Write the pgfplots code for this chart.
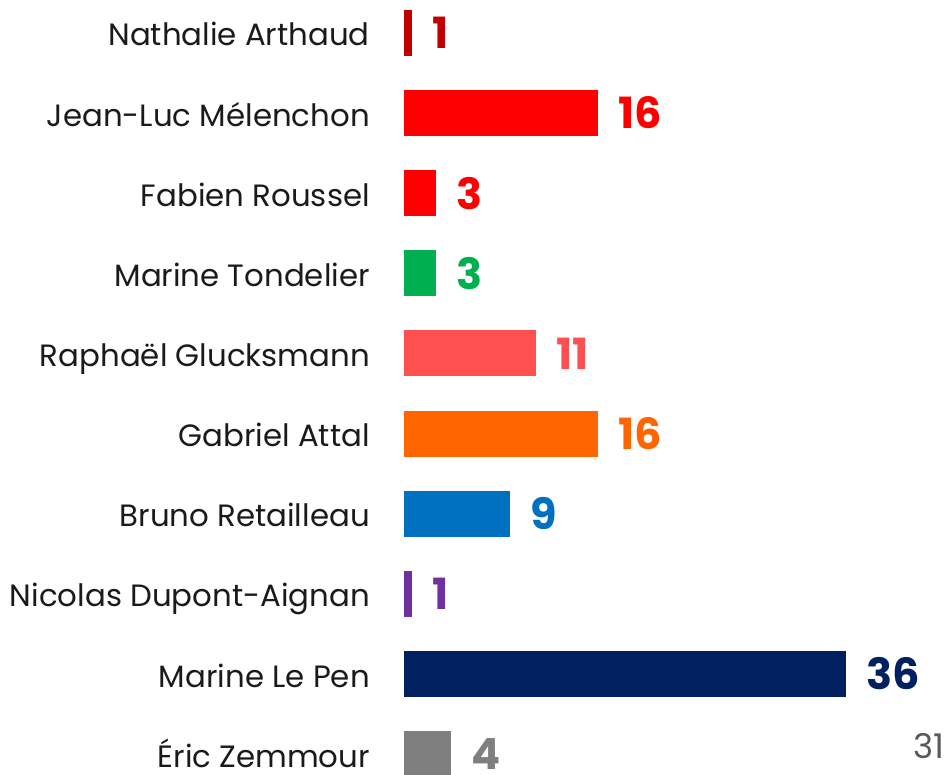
\documentclass[border=0pt]{standalone}
\usepackage{pgfplots}
\pgfplotsset{compat=1.18}
\usepackage{fontspec}
\setmainfont{Poppins}

\definecolor{cArthaud}{HTML}{C00000}
\definecolor{cMelenchon}{HTML}{FF0000}
\definecolor{cRoussel}{HTML}{FF0000}
\definecolor{cTondelier}{HTML}{00B050}
\definecolor{cGlucksmann}{HTML}{FF5050}
\definecolor{cAttal}{HTML}{FF6600}
\definecolor{cRetailleau}{HTML}{0070C0}
\definecolor{cDupont}{HTML}{7030A0}
\definecolor{cLePen}{HTML}{002060}
\definecolor{cZemmour}{HTML}{7F7F7F}
\definecolor{txt}{HTML}{1A1A1A}

\begin{document}
\begin{tikzpicture}
\begin{axis}[
    name=ax,
    xbar,
    x=6.1pt, y=40.05pt,
    xmin=0, xmax=44.3,
    ymin=-0.41, ymax=9.25,
    y dir=reverse,
    bar width=23pt,
    axis line style={draw=none},
    major tick length=0pt,
    xtick=\empty,
    ytick={0,...,9},
    yticklabels={Nathalie Arthaud, Jean-Luc Mélenchon, Fabien Roussel,
                 Marine Tondelier, Raphaël Glucksmann, Gabriel Attal,
                 Bruno Retailleau, Nicolas Dupont-Aignan, Marine Le Pen,
                 Éric Zemmour},
    yticklabel style={font=\fontsize{15.4}{18}\selectfont, text=txt,
                      anchor=base east, inner sep=0pt, xshift=-17pt, yshift=-6.5pt},
    point meta=explicit symbolic,
    nodes near coords,
    nodes near coords style={font=\fontsize{21.5}{25}\selectfont\bfseries,
                             anchor=west, inner sep=0pt, xshift=10pt},
    every axis plot/.append style={draw=none, bar shift=0pt},
  ]

\addplot[fill=cArthaud, nodes near coords style={text=cArthaud}]
  coordinates {(0.65,0) [1]};
\addplot[fill=cMelenchon, nodes near coords style={text=cMelenchon}]
  coordinates {(15.9,1) [16]};
\addplot[fill=cRoussel, nodes near coords style={text=cRoussel}]
  coordinates {(2.6,2) [3]};
\addplot[fill=cTondelier, nodes near coords style={text=cTondelier}]
  coordinates {(2.6,3) [3]};
\addplot[fill=cGlucksmann, nodes near coords style={text=cGlucksmann}]
  coordinates {(10.8,4) [11]};
\addplot[fill=cAttal, nodes near coords style={text=cAttal}]
  coordinates {(15.9,5) [16]};
\addplot[fill=cRetailleau, nodes near coords style={text=cRetailleau}]
  coordinates {(8.7,6) [9]};
\addplot[fill=cDupont, nodes near coords style={text=cDupont}]
  coordinates {(0.65,7) [1]};
\addplot[fill=cLePen, nodes near coords style={text=cLePen}]
  coordinates {(36.2,8) [36]};
\addplot[fill=cZemmour, nodes near coords style={text=cZemmour}]
  coordinates {(3.8,9) [4]};

\end{axis}
% page number
\node[font=\fontsize{17}{20}\selectfont, text=black!65, anchor=east, inner sep=0pt]
  at ([xshift=270pt, yshift=14pt]ax.south west) {31};
\pgfresetboundingbox
\path ([xshift=-202pt]ax.south west) rectangle (ax.north east);
\end{tikzpicture}
\end{document}
